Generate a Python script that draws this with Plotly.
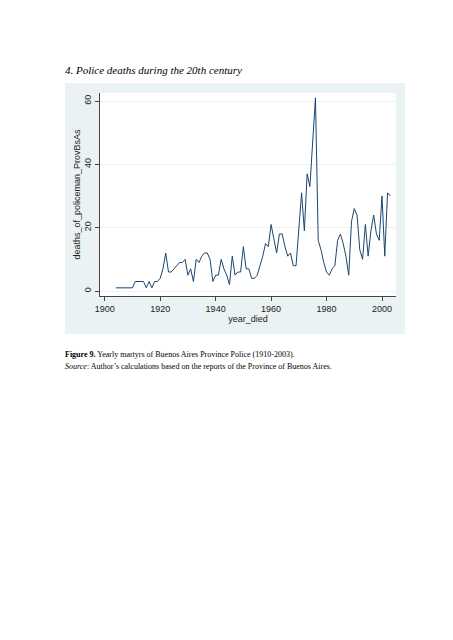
import plotly.graph_objects as go

years = list(range(1904, 2004))
deaths = [
    1, 1, 1, 1, 1, 1, 1,            # 1904-1910
    3, 3, 3, 3,                     # 1911-1914
    1, 3, 1, 3, 3,                  # 1915-1919
    4, 7, 12, 6, 6, 7, 8, 9, 9, 10, # 1920-1929
    5, 7, 3, 10, 9, 11, 12, 12, 10, 3,   # 1930-1939
    5, 5, 10, 7, 5, 2, 11, 5, 6, 6,      # 1940-1949
    14, 7, 7, 4, 4, 5, 8, 11, 15, 14,    # 1950-1959
    21, 17, 12, 18, 18, 14, 11, 12, 8, 8,  # 1960-1969
    20, 31, 19, 37, 33, 49, 61, 16, 13, 9, # 1970-1979
    6, 5, 7, 8, 16, 18, 15, 11, 5, 22,     # 1980-1989
    26, 24, 13, 10, 21, 11, 19, 24, 18, 16, # 1990-1999
    30, 11, 31, 30,                         # 2000-2003
]
x_ticks = [1900, 1920, 1940, 1960, 1980, 2000]
y_ticks = [0, 20, 40, 60]

title_text = "4. Police deaths during the 20th century"
caption1 = "<b>Figure 9.</b> Yearly martyrs of Buenos Aires Province Police (1910-2003)."
caption2 = "<i>Source</i>: Author\u2019s calculations based on the reports of the Province of Buenos Aires."

W, H = 453, 640
L, R, T, B = 92, 388, 85, 288

fig = go.Figure()
fig.add_trace(go.Scatter(x=years, y=deaths, mode="lines",
                         line=dict(color="#1A476F", width=1)))

def px(xp):
    return (xp - L) / (R - L)

def py(yp):
    return (B - yp) / (B - T)

fig.add_shape(type="rect", xref="paper", yref="paper",
              x0=px(57), x1=px(397), y0=py(326), y1=py(75),
              fillcolor="#EAF2F3", line=dict(width=0), layer="below")
fig.add_shape(type="rect", xref="paper", yref="paper",
              x0=0, x1=1, y0=0, y1=1,
              fillcolor="white", line=dict(width=0), layer="below")

axis_font = dict(family="Liberation Sans, Arial, sans-serif", size=9, color="#222")

fig.update_layout(
    width=W, height=H,
    margin=dict(l=L, r=W - R, t=T, b=H - B, pad=0),
    paper_bgcolor="white", plot_bgcolor="white",
    showlegend=False,
    xaxis=dict(range=[1898.3, 2005.05], tickvals=x_ticks, ticks="outside",
               ticklen=4, tickcolor="#444", showline=True, linecolor="#444",
               linewidth=1, showgrid=False, zeroline=False, tickfont=axis_font,
               title=dict(text="year_died", font=axis_font, standoff=1)),
    yaxis=dict(range=[-1.58, 62.53], tickvals=y_ticks, ticks="outside",
               ticklen=4, tickcolor="#444", showline=True, linecolor="#444",
               linewidth=1, showgrid=True, gridcolor="#EAF2F3", gridwidth=1,
               zeroline=False, tickangle=-90, tickfont=axis_font,
               title=dict(text="deaths_of_policeman_ProvBsAs", font=axis_font, standoff=1)),
)

serif = "Liberation Serif, Times New Roman, serif"
fig.add_annotation(text=title_text, xref="paper", yref="paper",
                   x=px(55), y=py(62), xanchor="left", yanchor="middle",
                   showarrow=False,
                   font=dict(family=serif, size=11, color="black", style="italic"))
fig.add_annotation(text=caption1, xref="paper", yref="paper",
                   x=px(55), y=py(346), xanchor="left", yanchor="middle",
                   showarrow=False,
                   font=dict(family=serif, size=8, color="black"))
fig.add_annotation(text=caption2, xref="paper", yref="paper",
                   x=px(55), y=py(358), xanchor="left", yanchor="middle",
                   showarrow=False,
                   font=dict(family=serif, size=8, color="black"))

fig.write_html("out.html")
